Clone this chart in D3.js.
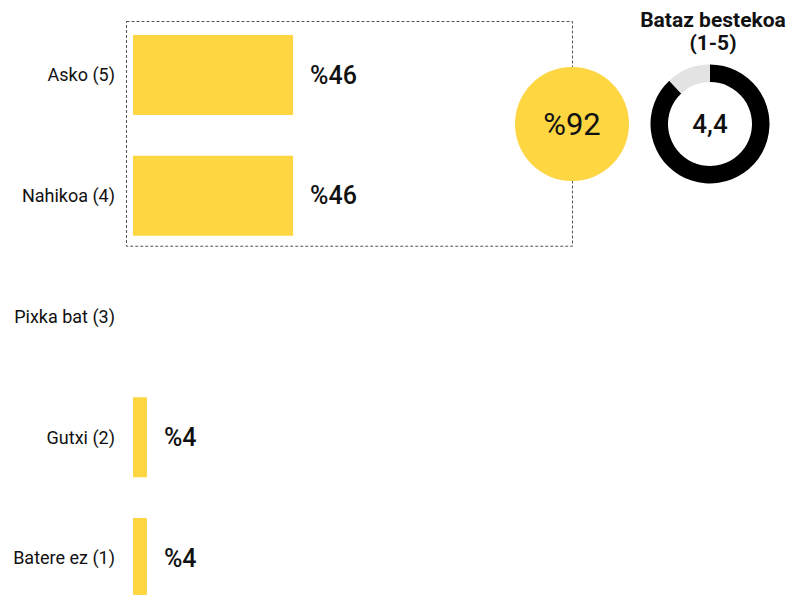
<!DOCTYPE html>
<html>
<head>
<meta charset="utf-8">
<script src="https://cdn.jsdelivr.net/npm/d3@7"></script>
<style>
  body { margin: 0; background: #fff; }
  text { font-family: Roboto, "Noto Sans", sans-serif; }
</style>
</head>
<body>
<div id="chart"></div>
<script>
// data
var categories = ["Asko (5)", "Nahikoa (4)", "Pixka bat (3)", "Gutxi (2)", "Batere ez (1)"];
var percents = [46, 46, 0, 4, 4];
var topShare = 92;        // Asko + Nahikoa
var averageScore = 4.4;   // scale 1-5
var averageMax = 5;
var averageTitle = ["Bataz bestekoa", "(1-5)"];

var width = 790, height = 595;
var yellow = "#fed641";

var svg = d3.select("#chart")
  .append("svg")
    .attr("width", width)
    .attr("height", height);

// scales
var x = d3.scaleLinear()
  .domain([0, 100])
  .range([133, 133 + 348]);

var y = d3.scaleBand()
  .domain(categories)
  .range([35, 598])
  .paddingInner(0.3375)
  .paddingOuter(0);

// dashed box round the two top answers
var boxTop = y(categories[0]) - 14,
    boxBottom = y(categories[1]) + y.bandwidth() + 10;
svg.append("rect")
  .attr("x", 126.5)
  .attr("y", boxTop + 0.5)
  .attr("width", 446)
  .attr("height", boxBottom - boxTop)
  .attr("fill", "none")
  .attr("stroke", "#555")
  .attr("stroke-width", 1)
  .attr("stroke-dasharray", "3,2");

// bars
svg.selectAll(".bar")
  .data(categories)
  .enter().append("rect")
    .attr("class", "bar")
    .attr("x", x(0))
    .attr("y", function(d) { return y(d); })
    .attr("width", function(d, i) { return x(percents[i]) - x(0); })
    .attr("height", y.bandwidth())
    .attr("fill", yellow);

// category labels
svg.selectAll(".cat")
  .data(categories)
  .enter().append("text")
    .attr("class", "cat")
    .attr("x", 115)
    .attr("y", function(d) { return y(d) + y.bandwidth() / 2; })
    .attr("dy", "0.35em")
    .attr("text-anchor", "end")
    .attr("font-size", 18)
    .attr("fill", "#111")
    .text(function(d) { return d; });

// value labels (skip empty answers)
svg.selectAll(".val")
  .data(categories.filter(function(d, i) { return percents[i] > 0; }))
  .enter().append("text")
    .attr("class", "val")
    .attr("x", function(d) { return x(percents[categories.indexOf(d)]) + 17; })
    .attr("y", function(d) { return y(d) + y.bandwidth() / 2; })
    .attr("dy", "0.35em")
    .attr("font-size", 25)
    .attr("font-weight", 500)
    .attr("fill", "#111")
    .text(function(d) { return "%" + percents[categories.indexOf(d)]; });

// yellow circle with the share of the top two
var cx = 572, cy = 124;
svg.append("circle")
  .attr("cx", cx)
  .attr("cy", cy)
  .attr("r", 57)
  .attr("fill", yellow);
svg.append("text")
  .attr("x", cx)
  .attr("y", cy)
  .attr("dy", "0.35em")
  .attr("text-anchor", "middle")
  .attr("font-size", 31)
  .attr("fill", "#111")
  .text("%" + topShare);

// donut with the average
var dx = 710, dy = 124;
var pie = d3.pie().sort(null).startAngle(0).endAngle(2 * Math.PI);
var arc = d3.arc().innerRadius(42).outerRadius(59.5);
var donut = svg.append("g")
  .attr("transform", "translate(" + dx + "," + dy + ")");
donut.selectAll("path")
  .data(pie([averageScore, averageMax - averageScore]))
  .enter().append("path")
    .attr("d", arc)
    .attr("fill", function(d, i) { return i == 0 ? "#000" : "#e3e3e3"; });
donut.append("text")
  .attr("dy", "0.35em")
  .attr("text-anchor", "middle")
  .attr("font-size", 26)
  .attr("font-weight", 500)
  .attr("fill", "#111")
  .text(String(averageScore).replace(".", ","));

svg.selectAll(".title")
  .data(averageTitle)
  .enter().append("text")
    .attr("class", "title")
    .attr("x", dx + 3)
    .attr("y", function(d, i) { return 27 + i * 23; })
    .attr("text-anchor", "middle")
    .attr("font-size", 21)
    .attr("font-weight", 700)
    .attr("fill", "#111")
    .text(function(d) { return d; });
</script>
</body>
</html>
